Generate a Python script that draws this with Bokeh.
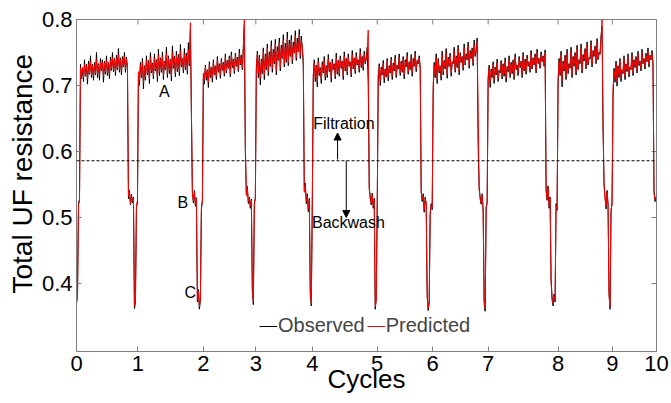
import numpy as np
from bokeh.plotting import figure
from bokeh.models import (Range1d, FixedTicker, Span, Label, Arrow, Title,
                          NormalHead, Legend, LegendItem)
from bokeh.embed import file_html
from bokeh.resources import INLINE

# x positions (sample time) of the cycle boundaries and their labels
cycle_ticks = [0, 61.5, 127, 179.5, 236, 301, 356.5, 412, 482, 536.3, 580.5]
cycle_labels = ["0", "1", "2", "3", "4", "5", "6", "7", "8", "9", "10"]
y_ticks = [0.4, 0.5, 0.6, 0.7, 0.8]
threshold = 0.586

# Total UF resistance, in thousandths, one sample per time unit
observed_milli = [
    372, 385, 521, 528,
    732, 710, 727, 706, 739, 714, 732, 702, 737, 717, 745, 712, 732, 708, 735, 716, 750, 712, 733, 708,
    741, 722, 739, 705, 737, 717, 745, 715, 735, 710, 743, 723, 750, 721, 741, 715, 746, 724, 756, 720,
    742, 716, 744, 728, 750, 720, 743, 725,
    528, 541, 519, 535, 522, 531, 362, 371, 516, 522,
    718, 700, 735, 712, 741, 695, 730, 708, 745, 716, 738, 703, 750, 719, 734, 710, 748, 722, 739, 706,
    755, 715, 742, 720, 751, 709, 737, 724, 758, 712, 745, 718, 740, 707, 760, 726, 744, 713, 752, 721,
    747, 715, 762, 728, 741, 719, 756, 724, 749, 717, 765, 730, 783, 658,
    538, 522, 541, 517, 530, 372, 391, 361, 375, 512, 527,
    715, 702, 731, 708, 724, 697, 736, 712, 728, 705, 739, 716, 730, 709, 744, 720, 733, 711, 741, 723,
    735, 714, 748, 719, 738, 726, 745, 713, 751, 727, 740, 718, 749, 729, 743, 721, 755, 731, 746, 724,
    760, 792, 598,
    536, 547, 521, 531, 514, 528, 392, 368, 519, 531,
    725, 752, 712, 746, 701, 740, 718, 757, 709, 748, 724, 763, 715, 751, 729, 768, 720, 755, 733, 770,
    716, 759, 738, 772, 722, 761, 741, 777, 728, 764, 735, 781, 730, 769, 744, 776, 733, 766, 749, 783,
    738, 772, 751, 785, 741, 775, 756, 730,
    541, 552, 521, 536, 509, 529, 383, 366, 518,
    713, 739, 706, 731, 698, 742, 715, 727, 703, 736, 719, 744, 708, 730, 712, 747, 721, 735, 705, 740,
    724, 733, 710, 749, 717, 738, 714, 745, 726, 737, 709, 751, 722, 741, 716, 748, 729, 736, 713, 753,
    725, 742, 718, 750, 731, 739, 720, 756, 727, 744, 723, 752, 733, 741, 758, 700,
    546, 531, 519, 537, 514, 529, 361, 377, 521,
    711, 733, 700, 728, 716, 738, 704, 725, 713, 741, 707, 730, 719, 743, 709, 734, 722, 746, 712, 731,
    725, 748, 715, 737, 720, 744, 710, 739, 728, 750, 717, 736, 724, 747, 714, 741, 729, 752, 721, 738,
    733, 745, 726,
    541, 524, 536, 508, 531, 519, 382, 359, 371, 504, 521, 512,
    690, 735, 712, 748, 703, 741, 719, 730, 708, 752, 716, 738, 725, 756, 711, 743, 729, 749, 714, 736,
    733, 758, 720, 745, 727, 761, 716, 750, 735, 744, 723, 763, 731, 748, 739, 766, 726, 753, 741, 757,
    730, 769, 744, 752, 772, 608,
    547, 531, 520, 536, 509, 371, 358, 514, 523,
    708, 731, 697, 725, 712, 736, 703, 728, 716, 740, 706, 723, 719, 738, 710, 733, 714, 742, 705, 729,
    721, 745, 712, 735, 718, 739, 709, 748, 724, 731, 715, 744, 727, 737, 712, 750, 722, 740, 717, 746,
    729, 736, 720, 753, 725, 742, 731, 748, 719, 755, 733, 741, 726, 751, 736, 745, 729, 754,
    543, 526, 548, 514, 531, 407, 378, 366, 384, 372, 521, 511,
    703, 741, 715, 752, 698, 737, 722, 746, 709, 755, 718, 733, 726, 758, 712, 744, 729, 750, 716, 761,
    724, 739, 733, 763, 719, 747, 737, 756, 725, 766, 731, 742, 740, 768, 728, 753, 744, 760, 733, 771,
    739, 750, 747, 775, 790, 636,
    552, 532, 513, 541, 519, 386, 361, 509, 522,
    682, 726, 705, 737, 699, 730, 712, 741, 706, 724, 718, 745, 709, 733, 721, 748, 713, 728, 724, 750,
    715, 739, 727, 744, 719, 752, 730, 737, 722, 755, 733, 741, 725, 749, 736, 757, 728, 746, 739, 753,
    731,
    541, 524, 532,
]

predicted_milli = [
    368, 380, 518, 525,
    728, 714, 726, 712, 732, 716, 729, 710, 732, 719, 736, 716, 730, 714, 731, 718, 739, 717, 731, 715,
    735, 723, 735, 714, 734, 721, 738, 720, 734, 717, 738, 725, 742, 724, 738, 721, 741, 727, 746, 724,
    739, 722, 740, 730, 744, 725, 740, 728,
    532, 538, 521, 533, 525, 529, 366, 374, 519, 525,
    721, 708, 731, 715, 735, 704, 728, 713, 738, 719, 734, 710, 743, 722, 732, 715, 741, 725, 736, 713,
    746, 720, 739, 724, 744, 715, 735, 727, 749, 718, 741, 723, 738, 714, 750, 729, 741, 719, 746, 725,
    742, 721, 752, 731, 739, 724, 748, 728, 744, 723, 754, 733, 795, 665,
    535, 525, 538, 520, 528, 376, 388, 365, 378, 515, 524,
    719, 709, 728, 713, 724, 705, 732, 716, 727, 711, 735, 719, 729, 714, 739, 723, 731, 716, 737, 725,
    733, 718, 743, 722, 736, 728, 741, 718, 746, 730, 738, 722, 745, 731, 740, 724, 749, 733, 743, 727,
    754, 800, 612,
    533, 544, 524, 529, 517, 526, 388, 372, 522, 528,
    730, 747, 719, 742, 711, 737, 723, 751, 716, 744, 728, 756, 721, 747, 732, 760, 725, 750, 736, 763,
    722, 753, 740, 765, 727, 756, 743, 769, 732, 758, 739, 772, 735, 763, 746, 769, 738, 760, 750, 775,
    742, 766, 752, 777, 745, 769, 757, 740,
    538, 548, 524, 533, 512, 527, 387, 369, 521,
    717, 734, 711, 728, 706, 736, 718, 725, 710, 732, 721, 738, 713, 728, 716, 740, 723, 733, 711, 736,
    726, 731, 714, 742, 720, 735, 718, 740, 728, 735, 714, 745, 725, 738, 720, 743, 731, 735, 717, 747,
    727, 740, 722, 745, 733, 738, 724, 750, 730, 741, 727, 747, 735, 740, 752, 784,
    543, 528, 522, 534, 517, 527, 365, 374, 518,
    715, 729, 707, 725, 718, 734, 710, 723, 716, 737, 712, 728, 721, 739, 714, 731, 724, 741, 716, 730,
    727, 743, 719, 734, 723, 740, 716, 736, 730, 745, 721, 734, 727, 742, 719, 738, 731, 747, 725, 737,
    735, 742, 729,
    538, 527, 533, 512, 529, 522, 378, 363, 374, 508, 518, 515,
    702, 731, 716, 742, 709, 737, 722, 729, 713, 746, 720, 735, 727, 750, 716, 740, 731, 745, 719, 735,
    735, 752, 724, 742, 730, 755, 721, 746, 737, 742, 727, 757, 734, 745, 741, 760, 730, 749, 743, 754,
    734, 762, 746, 750, 766, 655,
    543, 528, 523, 533, 513, 375, 362, 517, 520,
    713, 727, 705, 722, 716, 732, 709, 725, 719, 735, 711, 722, 722, 734, 715, 730, 718, 737, 711, 727,
    724, 740, 717, 732, 721, 735, 714, 743, 727, 730, 719, 740, 730, 735, 717, 745, 725, 737, 721, 742,
    731, 735, 724, 748, 728, 740, 733, 744, 723, 750, 735, 740, 729, 747, 738, 743, 732, 749,
    540, 529, 544, 518, 529, 403, 374, 370, 380, 375, 518, 514,
    710, 736, 719, 746, 707, 733, 725, 741, 714, 749, 722, 731, 729, 752, 717, 740, 732, 746, 720, 755,
    727, 737, 736, 757, 723, 744, 740, 752, 729, 760, 734, 741, 743, 762, 732, 750, 746, 756, 737, 765,
    742, 748, 750, 769, 800, 645,
    548, 529, 517, 538, 522, 382, 365, 513, 519,
    695, 722, 710, 733, 706, 727, 716, 737, 711, 722, 721, 740, 714, 730, 724, 743, 717, 727, 727, 745,
    719, 736, 730, 741, 723, 747, 733, 736, 726, 750, 735, 740, 729, 745, 738, 751, 732, 744, 741, 749,
    734,
    537, 527, 530,
]

n = min(len(observed_milli), len(predicted_milli))
observed = np.array(observed_milli[:n]) / 1000.0
predicted = np.array(predicted_milli[:n]) / 1000.0
t = np.arange(n)  # uniform sampling time

FONT = "Liberation Sans"
AX = "#808080"
X0, X1, Y0, Y1 = 0, 580.5, 0.297, 0.8

p = figure(width=670, height=400, output_backend="svg", toolbar_location=None,
           x_range=Range1d(X0, X1), y_range=Range1d(Y0, Y1),
           min_border_left=76, min_border_right=14, min_border_top=19, min_border_bottom=49)
p.xgrid.visible = False
p.ygrid.visible = False
p.outline_line_color = AX
p.background_fill_color = "white"

for ax, ticks in [(p.xaxis[0], cycle_ticks), (p.yaxis[0], y_ticks)]:
    ax.ticker = FixedTicker(ticks=ticks)
    ax.axis_line_color = AX
    ax.major_tick_line_color = AX
    ax.major_tick_in = 5
    ax.major_tick_out = 0
    ax.minor_tick_line_color = None
    ax.major_label_text_font = FONT
    ax.major_label_text_color = "black"
    ax.major_label_text_font_size = "22px"
    ax.major_label_standoff = 4
    ax.axis_label_text_font = FONT
    ax.axis_label_text_font_style = "normal"
    ax.axis_label_text_color = "black"

p.xaxis[0].major_label_overrides = {tk: lb for tk, lb in zip(cycle_ticks, cycle_labels)}
p.xaxis[0].axis_label = "Cycles"
p.xaxis[0].axis_label_text_font_size = "26px"
p.xaxis[0].axis_label_standoff = -10

ytitle = Title(text="Total UF resistance", align="left", offset=58, standoff=2,
               text_font=FONT, text_font_size="28px", text_font_style="normal",
               text_color="black")
p.add_layout(ytitle, "left")

# inner tick marks on the top and right edges of the box (5 px long)
dy = 5 * (Y1 - Y0) / 332.0
dx = 5 * (X1 - X0) / 580.5
p.segment(x0=cycle_ticks, y0=[Y1] * len(cycle_ticks), x1=cycle_ticks,
          y1=[Y1 - dy] * len(cycle_ticks), line_color=AX, line_width=1)
p.segment(x0=[X1] * len(y_ticks), y0=y_ticks, x1=[X1 - dx] * len(y_ticks),
          y1=y_ticks, line_color=AX, line_width=1)

r_obs = p.line(t, observed, line_color="black", line_width=1)
r_pred = p.line(t, predicted, line_color="red", line_width=1)

p.add_layout(Span(location=threshold, dimension="width", line_color="black",
                  line_dash="3 2", line_width=1))

p.add_layout(Arrow(end=NormalHead(size=7, fill_color="black", line_color="black"),
                   x_start=261.3, y_start=0.588, x_end=261.3, y_end=0.628,
                   line_color="black", line_width=1))
p.add_layout(Arrow(end=NormalHead(size=7, fill_color="black", line_color="black"),
                   x_start=270, y_start=0.586, x_end=270, y_end=0.500,
                   line_color="black", line_width=1))

for txt, x, y, align in [("A", 88, 0.691, "center"), ("B", 106.5, 0.522, "center"),
                         ("C", 114, 0.386, "center"), ("Filtration", 237, 0.642, "left"),
                         ("Backwash", 235.7, 0.493, "left")]:
    p.add_layout(Label(x=x, y=y, text=txt, text_align=align, text_baseline="middle",
                       text_font=FONT, text_font_size="16px", text_color="black"))

legend = Legend(items=[LegendItem(label="Observed", renderers=[r_obs]),
                       LegendItem(label="Predicted", renderers=[r_pred])],
                orientation="horizontal", location=(183, 14), border_line_color=None,
                background_fill_alpha=0, label_text_font=FONT, label_text_font_size="20px",
                glyph_width=18, label_standoff=1, spacing=2, padding=0, margin=0)
p.add_layout(legend)

open("out.html", "w").write(file_html(p, INLINE))
